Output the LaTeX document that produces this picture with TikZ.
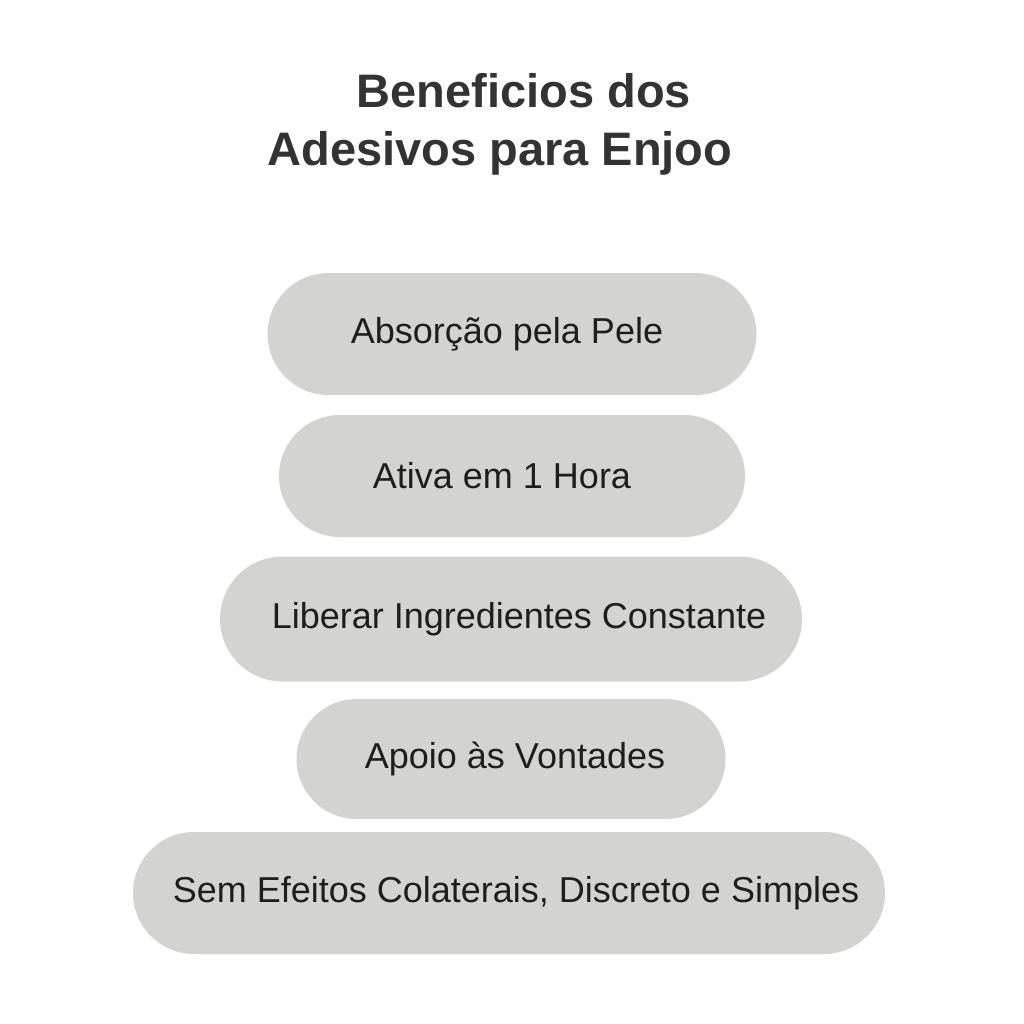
\documentclass[tikz,border=0pt]{standalone}
\usepackage{fontspec}
\setmainfont{Liberation Sans}
\definecolor{pill}{HTML}{D3D3D1}
\definecolor{txt}{HTML}{1E1E1E}
\definecolor{ttl}{HTML}{333333}
\begin{document}
\begin{tikzpicture}[x=1pt,y=-1pt,
 ttlstyle/.style={text=ttl, font=\fontsize{47}{60}\selectfont\bfseries, align=center}]
\useasboundingbox (0,0) rectangle (1024,1024);
\newcommand{\pillat}[7]{\fill[pill] (#1-#3/2+#4/2,#2-#4/2) -- (#1+#3/2-#4/2,#2-#4/2) arc[start angle=-90,end angle=90,radius=#4/2] -- (#1-#3/2+#4/2,#2+#4/2) arc[start angle=90,end angle=270,radius=#4/2] -- cycle;
\node[text=txt,font=\fontsize{36}{40}\selectfont] (#5) at (#7,#2) {#6};}
\node[ttlstyle] (t1) at (524,91) {Beneficios dos};
\node[ttlstyle] (t2) at (500,153) {Adesivos para Enjoo};
\pillat{512}{334}{489}{122}{p1}{Absorção pela Pele}{507}
\pillat{512}{476}{466}{122}{p2}{Ativa em 1 Hora}{502}
\pillat{511}{619}{582}{125}{p3}{Liberar Ingredientes Constante}{519}
\pillat{511}{759}{429}{120}{p4}{Apoio às Vontades}{515}
\pillat{509}{893}{752}{122}{p5}{Sem Efeitos Colaterais, Discreto e Simples}{516}
\end{tikzpicture}
\end{document}
